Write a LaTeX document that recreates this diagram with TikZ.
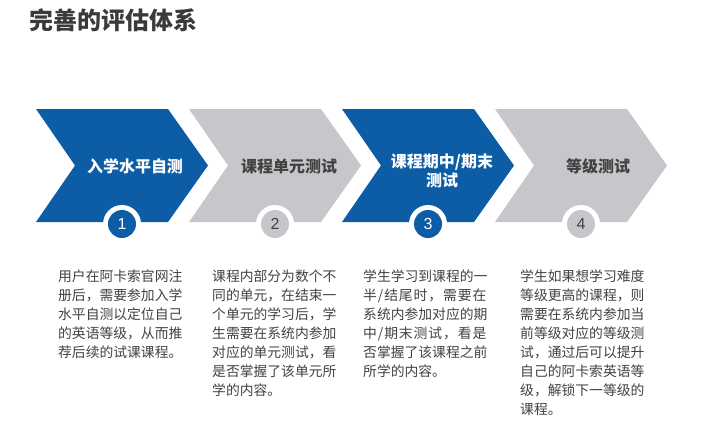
\documentclass[tikz,border=0pt]{standalone}
\usepackage{fontspec}
\newfontfamily\cjk{Noto Sans CJK SC}
\newfontfamily\numfont{Liberation Sans}
\definecolor{cblue}{HTML}{0C5CA6}
\definecolor{cgray}{HTML}{C5C7CA}
\definecolor{ctext}{HTML}{424242}
\definecolor{ctitle}{HTML}{3A3A3A}
\tikzset{
  headlbl/.style={font=\cjk\bfseries\fontsize{16}{19}\selectfont, align=center, inner sep=0pt},
  ring/.style={circle, fill=white, minimum size=38pt, inner sep=0pt},
  numdot/.style={circle, fill=#1, minimum size=28pt, inner sep=0pt, font=\numfont\fontsize{16}{16}\selectfont},
  body/.style={font=\cjk\fontsize{13.8}{19}\selectfont, text=ctext, align=left, inner sep=0pt, anchor=north west},
}
\newcommand{\chevshape}[2]{%
  \fill[#2] (#1,109) -- ++(132,0) -- ++(40,56.5) -- ++(-40,56.5) -- ++(-132,0) -- ++(39,-56.5) -- cycle;}
\newcommand{\hf}{\hfil{}}
\begin{document}
\begin{tikzpicture}[x=1pt,y=-1pt]
\useasboundingbox (0,0) rectangle (705,442);
\fill[white] (0,0) rectangle (705,442);
% title
\node[font=\cjk\bfseries\fontsize{24}{26}\selectfont, text=ctitle, anchor=west, inner sep=0pt] (title) at (29,20) {完善的评估体系};
% chevrons
\chevshape{36}{cblue}
\chevshape{189}{cgray}
\chevshape{342}{cblue}
\chevshape{495}{cgray}
% labels
\node[headlbl, text=white] (h1) at (135,166) {入学水平自测};
\node[headlbl, text=ctext] (h2) at (289,166) {课程单元测试};
\node[headlbl, text=white] (h3) at (442,171) {课程期中/期末\\测试};
\node[headlbl, text=ctext] (h4) at (598,166) {等级测试};
% number circles
\foreach \x/\n/\c/\t in {122/1/cblue/white, 275/2/cgray/ctext, 428/3/cblue/white, 581/4/cgray/ctext}{
  \node[ring] (r\n) at (\x,224) {};
  \node[numdot=\c, text=\t] (n\n) at (\x,224) {\n};
}
% body texts
\node[body] (b1) at (58,270) {用户在阿卡索官网注\\册后，需要参加入学\\水平自测以定位自己\\的英语等级，从而推\\荐后续的试课课程。};
\node[body] (b2) at (212,270) {课程内部分为数个不\\同的单元，在结束一\\个单元的学习后，学\\生需要在系统内参加\\对应的单元测试，看\\是否掌握了该单元所\\学的内容。};
\node[body] (b3) at (363,270) {学生学习到课程的一\\ \makebox[124.2pt][l]{半\hf /\hf 结\hf 尾\hf 时\hf ，\hf 需\hf 要\hf 在}\\系统内参加对应的期\\ \makebox[124.2pt][l]{中\hf /\hf 期\hf 末\hf 测\hf 试\hf ，\hf 看\hf 是}\\否掌握了该课程之前\\所学的内容。};
\node[body] (b4) at (520,270) {学生如果想学习难度\\等级更高的课程，则\\需要在系统内参加当\\前等级对应的等级测\\试，通过后可以提升\\自己的阿卡索英语等\\级，解锁下一等级的\\课程。};
\end{tikzpicture}
\end{document}
